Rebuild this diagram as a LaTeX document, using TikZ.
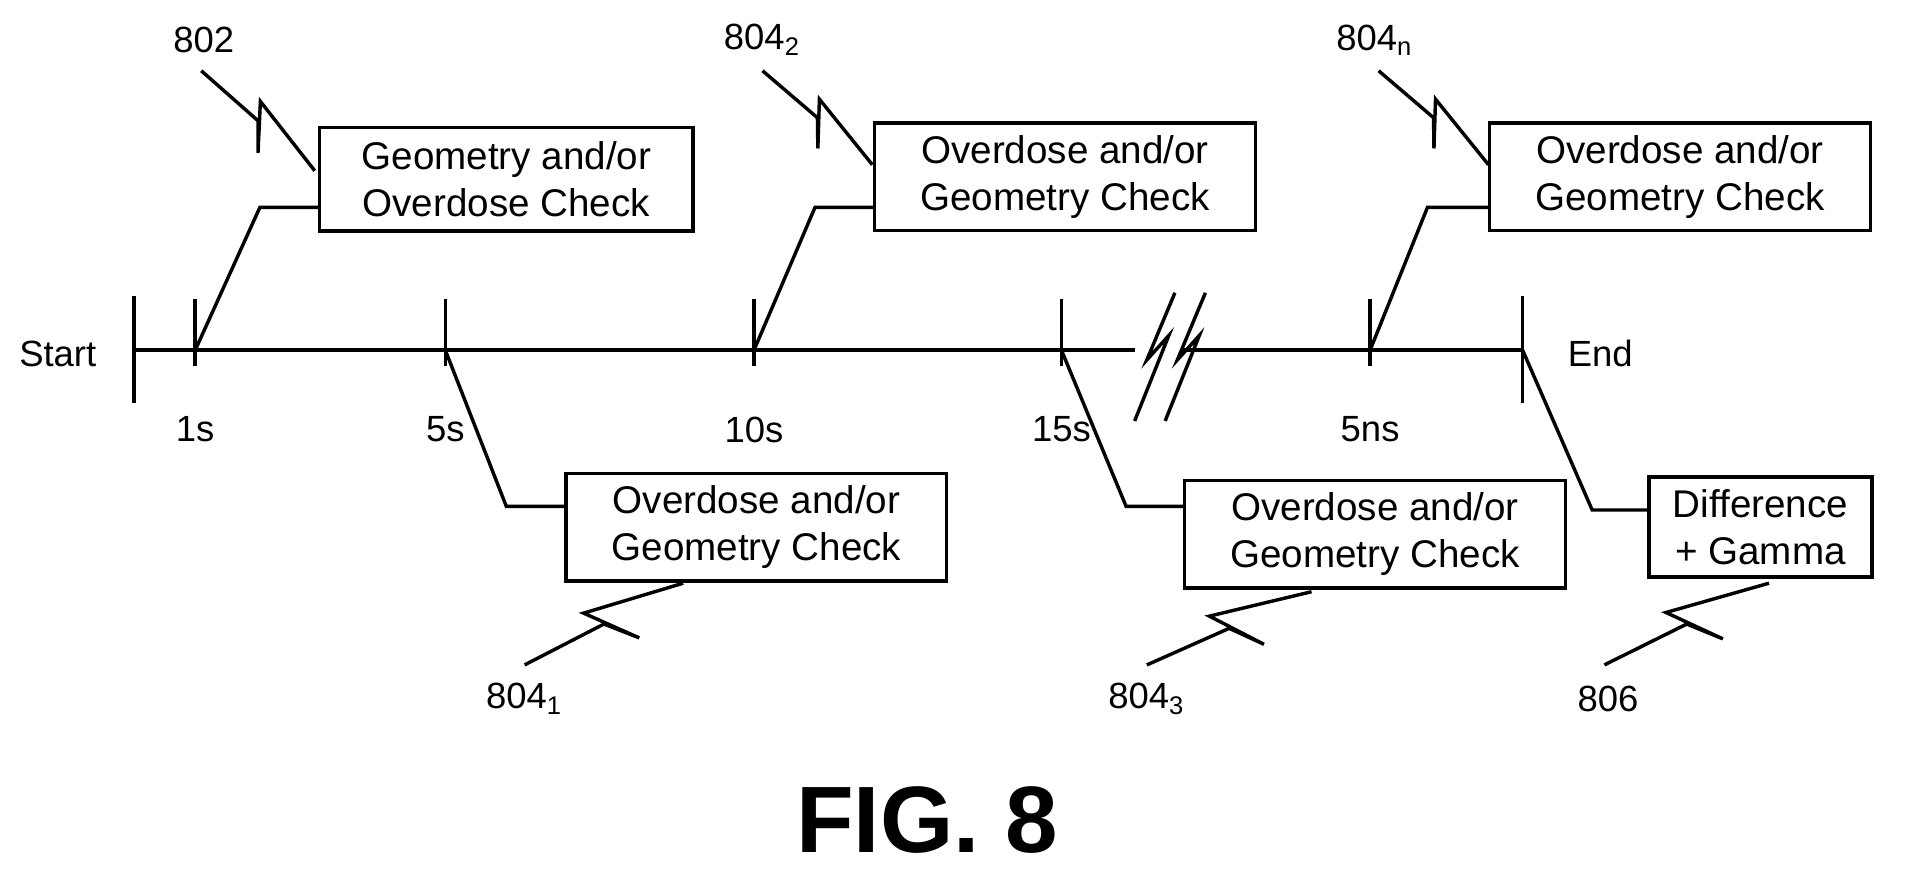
\documentclass[tikz,border=0pt]{standalone}
\usepackage{fontspec}
\setmainfont{Liberation Sans}
\usetikzlibrary{calc}
\tikzset{
  box/.style={draw,rectangle,align=center,minimum width=3.12cm,minimum height=0.85cm,inner sep=1mm,font=\fontsize{9}{11}\selectfont},
  lbl/.style={font=\fontsize{8.5}{10}\selectfont},
}
% zig-zag leader line from reference label to box
\newcommand{\zleader}[2]{%
  \draw (#1) -- ($(#1)!0.5!(#2)$) -- ($(#1)!0.66!-14:(#2)$) -- ($(#1)!0.44!14:(#2)$) -- (#2);}
\begin{document}
\begin{tikzpicture}[thick]
  \useasboundingbox (0,0) rectangle (15.68,-7.13);
  \def\ty{-2.87}	% height of time line
  % time line
  \coordinate (s) at (1.10,\ty);
  \coordinate (e) at (12.48,\ty);
  \draw (s) -- (e);
  \draw (1.10,-2.43) -- (1.10,-3.30);
  \draw (12.48,-2.43) -- (12.48,-3.30);
  \node[lbl,anchor=east] (start) at (0.92,-2.90) {Start};
  \node[lbl,anchor=west] (end) at (12.72,-2.90) {End};
  % ticks
  \foreach \x/\t/\n in {1.60/1s/t1,3.65/5s/t2,6.18/10s/t3,8.70/15s/t4,11.23/5ns/t5}{
    \coordinate (\n) at (\x,\ty);
    \draw (\x,-2.45) -- (\x,-3.00);
    \node[lbl] at (\x,-3.52) {\t};
  }
  \draw (1.60,-2.87) -- (1.60,-3.00);
  % break symbol
  \draw[white,line width=4pt] (9.30,\ty) -- (9.70,\ty);
  \draw (9.30,-3.45) -- (9.58,-2.75) -- (9.40,-2.95) -- (9.63,-2.40);
  \draw (9.55,-3.45) -- (9.83,-2.75) -- (9.65,-2.95) -- (9.88,-2.40);
  % boxes
  \node[box,minimum width=3.06cm] (b1) at (4.15,-1.47) {Geometry and/or\\Overdose Check};
  \node[box] (b2) at (8.73,-1.45) {Overdose and/or\\Geometry Check};
  \node[box] (b3) at (13.77,-1.45) {Overdose and/or\\Geometry Check};
  \node[box,minimum height=0.8cm] (b4) at (6.20,-4.32) {Overdose and/or\\Geometry Check};
  \node[box,minimum height=0.8cm] (b5) at (11.27,-4.38) {Overdose and/or\\Geometry Check};
  \node[box,minimum width=1.83cm,minimum height=0.77cm] (b6) at (14.43,-4.32) {Difference\\+ Gamma};
  % connectors
  \draw (t1) -- (2.13,-1.70) -- ([yshift=-.23cm]b1.west);
  \draw (t3) -- (6.68,-1.70) -- ([yshift=-.25cm]b2.west);
  \draw (t5) -- (11.70,-1.70) -- ([yshift=-.25cm]b3.west);
  \draw (t2) -- (4.15,-4.15) -- ([yshift=.17cm]b4.west);
  \draw (t4) -- (9.23,-4.15) -- ([yshift=.23cm]b5.west);
  \draw (e) -- (13.05,-4.18) -- ([yshift=.14cm]b6.west);
  % reference numerals
  \node[lbl] (r802) at (1.67,-0.33) {802};
  \node[lbl] (r8042) at (6.25,-0.33) {804$_{\mathrm{2}}$};
  \node[lbl] (r804n) at (11.27,-0.33) {804$_{\mathrm{n}}$};
  \node[lbl] (r8041) at (4.30,-5.73) {804$_{\mathrm{1}}$};
  \node[lbl] (r8043) at (9.40,-5.73) {804$_{\mathrm{3}}$};
  \node[lbl] (r806) at (13.18,-5.73) {806};
  \coordinate (p802) at (1.65,-0.58);
  \coordinate (p8042) at (6.25,-0.58);
  \coordinate (p804n) at (11.30,-0.58);
  \coordinate (p8041) at (4.30,-5.45);
  \coordinate (p8043) at (9.40,-5.45);
  \coordinate (p806) at (13.15,-5.45);
  \zleader{p802}{2.58,-1.40}
  \zleader{p8042}{7.15,-1.35}
  \zleader{p804n}{12.20,-1.35}
  \zleader{p8041}{5.60,-4.78}
  \zleader{p8043}{10.75,-4.85}
  \zleader{p806}{14.50,-4.78}
  \node[font=\bfseries\fontsize{22}{24}\selectfont] (fig) at (7.60,-6.72) {FIG. 8};
\end{tikzpicture}
\end{document}
